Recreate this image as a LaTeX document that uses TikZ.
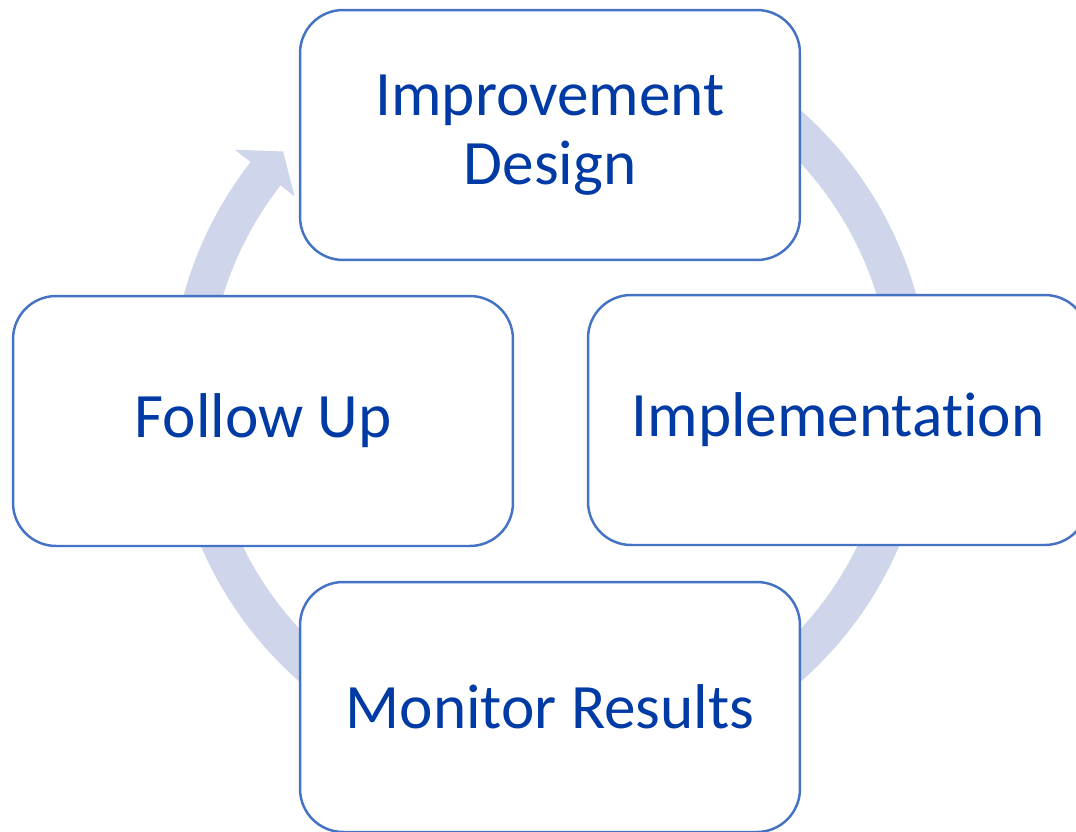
\documentclass[tikz,border=0pt]{standalone}
\usepackage{fontspec}
\setmainfont{Carlito}[Ligatures=NoCommon]
\definecolor{ringblue}{RGB}{207,213,234}
\definecolor{edgeblue}{RGB}{68,114,196}
\definecolor{textblue}{RGB}{0,58,165}
\tikzset{
  stage/.style={draw=edgeblue, line width=1.4pt, fill=white, rounded corners=0.86cm,
    minimum width=10cm, minimum height=5cm, align=center, text=textblue,
    font=\fontsize{36}{39}\selectfont},
}
\begin{document}
\begin{tikzpicture}[x=0.02cm, y=0.02cm]
  \useasboundingbox (0,0) rectangle (1076,-832);
  % ring with its arrow head, behind the boxes
  \begin{scope}[shift={(550,-396)}]
    \draw[ringblue, line width=0.76cm] (70:361) arc[start angle=70, end angle=-218.5, radius=361];
    \fill[ringblue] (142:400) -- (137.5:362) -- (142:324) -- cycle;
  \end{scope}
  \node[stage] (design) at (550,-135) {Improvement\\Design};
  \node[stage] (impl) at (838,-420) {Implementation};
  \node[stage] (monitor) at (550,-707) {Monitor Results};
  \node[stage] (follow) at (263,-421) {Follow Up};
\end{tikzpicture}
\end{document}
